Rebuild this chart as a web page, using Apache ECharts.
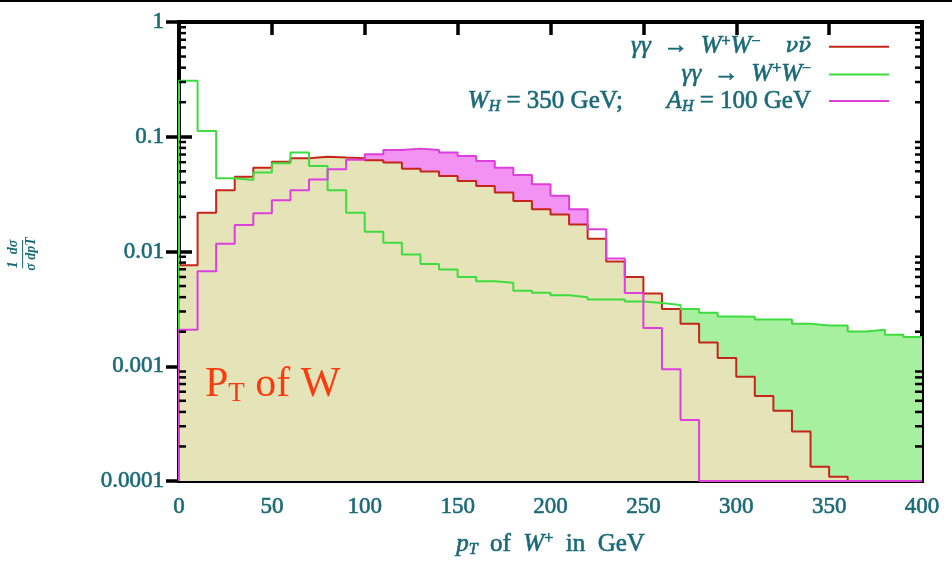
<!DOCTYPE html>
<html lang="en">
<head>
<meta charset="UTF-8">
<title>pT of W</title>
<script src="https://cdn.jsdelivr.net/npm/echarts@6/dist/echarts.min.js"></script>
<style>
    html, body { margin: 0; padding: 0; background: #fff; }
    #chart { width: 952px; height: 561px; }
</style>
</head>
<body>
<div id="chart"></div>
<script>
    // right edges of the 10 GeV bins
    var binEdges = [10, 20, 30, 40, 50, 60, 70, 80, 90, 100,
        110, 120, 130, 140, 150, 160, 170, 180, 190, 200,
        210, 220, 230, 240, 250, 260, 270, 280, 290, 300,
        310, 320, 330, 340, 350, 360, 370, 380, 390, 400];

    // gamma gamma -> W+W- nu nubar (red)
    var wwNuNu = [0.0076, 0.0218, 0.0341, 0.0449, 0.0538, 0.0607, 0.0649, 0.0671, 0.0658, 0.0649,
        0.0623, 0.0595, 0.0527, 0.0497, 0.0455, 0.0411, 0.0372, 0.0326, 0.0275, 0.0233,
        0.0210, 0.0172, 0.0129, 0.0082, 0.0060, 0.0043, 0.00316, 0.00235, 0.00161, 0.00118,
        0.00081, 0.00055, 0.00041, 0.00027, 0.000133, 0.000109, 0.0001, 0.0001, 0.0001, 0.0001];

    // gamma gamma -> W+W- (green)
    var ww = [0.307, 0.112, 0.0434, 0.0419, 0.0487, 0.0587, 0.0728, 0.0556, 0.0341, 0.0218,
        0.0149, 0.0119, 0.0094, 0.0078, 0.00697, 0.0060, 0.0055, 0.00533, 0.00456, 0.00438,
        0.00415, 0.00399, 0.00381, 0.00381, 0.00366, 0.00356, 0.00342, 0.00316, 0.00292, 0.00272,
        0.0027, 0.00255, 0.00255, 0.00235, 0.00226, 0.00226, 0.00201, 0.00208, 0.00188, 0.0018];

    // W_H = 350 GeV; A_H = 100 GeV (magenta)
    var higgs = [0.00208, 0.00673, 0.01167, 0.0170, 0.0215, 0.0279, 0.0341, 0.0425, 0.0520, 0.0630,
        0.0705, 0.0767, 0.0788, 0.0767, 0.0728, 0.0680, 0.0615, 0.0538, 0.0464, 0.0385,
        0.0306, 0.0233, 0.0156, 0.0087, 0.00435, 0.00215, 0.00094, 0.00034, 0.0001, 0.0001,
        0.0001, 0.0001, 0.0001, 0.0001, 0.0001, 0.0001, 0.0001, 0.0001, 0.0001, 0.0001];

    var yTickLabels = ['0.0001', '0.001', '0.01', '0.1', '1'];
    var yMinorTicks = [0.0002, 0.0003, 0.0004, 0.0005, 0.0006, 0.0007, 0.0008, 0.0009,
        0.002, 0.003, 0.004, 0.005, 0.006, 0.007, 0.008, 0.009,
        0.02, 0.03, 0.04, 0.05, 0.06, 0.07, 0.08, 0.09,
        0.2, 0.3, 0.4, 0.5, 0.6, 0.7, 0.8, 0.9];

    // bins (inclusive) where the band between curves is shaded
    var magentaBand = [10, 21];
    var greenBand = [27, 39];

    var nameRed = 'γγ → W+W− νν̄';
    var nameGreen = 'γγ → W+W−';
    var nameMag = 'W_H=350 GeV; A_H=100 GeV';

    var Y_MIN = 0.0001, Y_MAX = 1;
    var teal = '#1a6a78';
    var serif = 'Liberation Serif';

    // step 'start' data: first point is the left edge of the first bin
    function stepData(vals, from, to) {
        var pts = [from === 0 ? [0, Y_MIN] : [binEdges[from - 1], vals[from - 1]]];
        for (var i = from; i <= to; i++) {
            pts.push([binEdges[i], vals[i]]);
        }
        return pts;
    }

    // slightly heavier than regular, like the blurred original
    var heavy = { textBorderColor: teal, textBorderWidth: 0.6 };

    function tx(size, extra) {
        return Object.assign({ fontFamily: serif, fontSize: size, color: teal }, heavy, extra || {});
    }

    var richText = {
        t: tx(25, { lineHeight: 27 }),
        i: tx(25, { fontStyle: 'italic', lineHeight: 27 }),
        nu: tx(21, { fontFamily: 'DejaVu Serif', fontStyle: 'italic', lineHeight: 27 }),
        sup: tx(16, { lineHeight: 14, verticalAlign: 'top' }),
        sub: tx(16, { fontStyle: 'italic', lineHeight: 12, verticalAlign: 'bottom' }),
        g: { width: 13 }
    };

    var legendLabels = {};
    legendLabels[nameRed] = '{i|γγ}{t|  →  }{i|W}{sup|+}{i|W}{sup|−}{t|    }{nu|νν̄}{g|}';
    legendLabels[nameGreen] = '{i|γγ}{t|  →  }{i|W}{sup|+}{i|W}{sup|−}{g|}';
    legendLabels[nameMag] = '{i|W}{sub|H}{t| = 350 GeV;       }{i|A}{sub|H}{t| = 100 GeV}{g|}';

    var myChart = echarts.init(document.getElementById('chart'));

    var tickStyle = { color: '#000', width: 3.5 };
    var labelStyle = tx(23);

    var option = {
        backgroundColor: '#ffffff',
        animation: false,
        grid: {
            left: 179, right: 30, top: 22, bottom: 80,
            show: true, borderColor: '#000', borderWidth: 4,
            backgroundColor: 'transparent',
            outerBoundsMode: 'none'
        },
        legend: {
            data: [nameRed, nameGreen, nameMag],
            orient: 'vertical',
            align: 'right',
            right: 63,
            top: 33,
            padding: 0,
            itemWidth: 60,
            itemHeight: 2,
            itemGap: 1,
            icon: 'rect',
            selectedMode: false,
            formatter: function (n) { return legendLabels[n]; },
            textStyle: { color: teal, rich: richText }
        },
        xAxis: [{
            type: 'value', min: 0, max: 400, interval: 50,
            axisLine: { show: false },
            axisTick: { inside: true, length: 13, lineStyle: tickStyle },
            splitLine: { show: false },
            axisLabel: Object.assign({ margin: 14 }, labelStyle),
            name: '{i|p}{sub|T}{t|  of  }{i|W}{sup|+}{t|  in  GeV}',
            nameLocation: 'middle',
            nameGap: 50,
            nameTextStyle: { rich: richText }
        }, {
            type: 'value', min: 0, max: 400, interval: 50, position: 'top',
            axisLine: { show: false },
            axisTick: { inside: true, length: 13, lineStyle: tickStyle },
            splitLine: { show: false },
            axisLabel: { show: false }
        }],
        yAxis: [{
            type: 'log', logBase: 10, min: Y_MIN, max: Y_MAX,
            axisLine: { show: false },
            axisTick: { inside: true, length: 13, lineStyle: tickStyle },
            splitLine: { show: false },
            axisLabel: Object.assign({
                margin: 15,
                formatter: function (v) {
                    return yTickLabels[Math.round(Math.log10(v)) + 4];
                }
            }, labelStyle)
        }, {
            type: 'log', logBase: 10, min: Y_MIN, max: Y_MAX, position: 'right',
            axisLine: { show: false },
            axisTick: { inside: true, length: 13, lineStyle: tickStyle },
            splitLine: { show: false },
            axisLabel: { show: false }
        }],
        graphic: [
            { type: 'rect', left: 0, top: 0, shape: { width: 952, height: 2 }, style: { fill: '#000' } },
            {
                type: 'text', x: 22, y: 254, rotation: Math.PI / 2,
                style: {
                    text: '1  dσ\n——\nσ dpT',
                    fontFamily: serif, fontSize: 14, fontWeight: 'bold', fontStyle: 'italic',
                    fill: teal, align: 'center', verticalAlign: 'middle', lineHeight: 9
                }
            },
            {
                type: 'text', left: 205, top: 364, z: 10,
                style: {
                    text: '{p|P}{s|T}{p| of W}',
                    rich: {
                        p: { fontFamily: serif, fontSize: 42, fill: '#f83c10', lineHeight: 44 },
                        s: { fontFamily: serif, fontSize: 27, fill: '#f83c10', lineHeight: 30, verticalAlign: 'bottom' }
                    }
                }
            }
        ],
        series: [{
            type: 'line', step: 'start', symbol: 'none', silent: true, z: 1,
            data: stepData(higgs, magentaBand[0], magentaBand[1]),
            lineStyle: { width: 0 },
            areaStyle: { color: '#f292f2', opacity: 1, origin: 'start' }
        }, {
            type: 'line', step: 'start', symbol: 'none', silent: true, z: 1,
            data: stepData(ww, greenBand[0], greenBand[1]),
            lineStyle: { width: 0 },
            areaStyle: { color: '#a6f0a0', opacity: 1, origin: 'start' }
        }, {
            name: nameRed, type: 'line', step: 'start', symbol: 'none', z: 2,
            data: stepData(wwNuNu, 0, 39),
            itemStyle: { color: '#c4261a' },
            lineStyle: { color: '#c4261a', width: 2 },
            areaStyle: { color: '#e4e4b8', opacity: 1, origin: 'start' }
        }, {
            name: nameGreen, type: 'line', step: 'start', symbol: 'none', z: 3,
            data: stepData(ww, 0, 39),
            itemStyle: { color: '#3fdc3f' },
            lineStyle: { color: '#3fdc3f', width: 2 }
        }, {
            name: nameMag, type: 'line', step: 'start', symbol: 'none', z: 3,
            data: stepData(higgs, 0, 39),
            itemStyle: { color: '#dd3fdd' },
            lineStyle: { color: '#dd3fdd', width: 2 }
        }, {
            type: 'custom', silent: true, z: 5,
            data: yMinorTicks.map(function (v) { return [0, v]; }),
            renderItem: function (params, api) {
                var v = api.value(1);
                var l = api.coord([0, v]);
                var r = api.coord([400, v]);
                return {
                    type: 'group',
                    children: [
                        { type: 'line', shape: { x1: l[0], y1: l[1], x2: l[0] + 7, y2: l[1] }, style: { stroke: '#000', lineWidth: 2.5 } },
                        { type: 'line', shape: { x1: r[0], y1: r[1], x2: r[0] - 7, y2: r[1] }, style: { stroke: '#000', lineWidth: 2.5 } }
                    ]
                };
            }
        }]
    };

    myChart.setOption(option);
</script>
</body>
</html>
